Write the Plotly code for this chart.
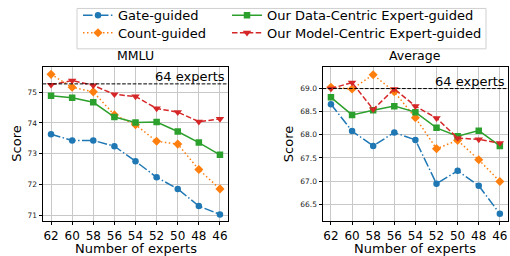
import plotly.graph_objects as go
from plotly.subplots import make_subplots

experts = ["62", "60", "58", "56", "54", "52", "50", "48", "46"]

mmlu_gate = [73.63, 73.43, 73.43, 73.24, 72.75, 72.23, 71.85, 71.29, 71.02]
mmlu_count = [75.58, 75.16, 75.01, 74.26, 73.94, 73.40, 73.31, 72.48, 71.85]
mmlu_data = [74.88, 74.82, 74.67, 74.19, 74.01, 74.03, 73.72, 73.36, 72.96]
mmlu_model = [75.24, 75.38, 75.22, 74.93, 74.86, 74.47, 74.35, 74.04, 74.13]
mmlu_full = 75.27

avg_gate = [68.66, 68.08, 67.76, 68.05, 67.89, 66.94, 67.22, 66.90, 66.29]
avg_count = [69.03, 68.99, 69.30, 68.93, 68.37, 67.70, 67.88, 67.46, 66.99]
avg_data = [68.81, 68.43, 68.53, 68.62, 68.49, 68.15, 67.97, 68.09, 67.76]
avg_model = [69.00, 69.13, 68.55, 68.99, 68.62, 68.36, 67.93, 67.90, 67.82]
avg_full = 69.00

series_names = ["Gate-guided", "Count-guided", "Our Data-Centric Expert-guided",
                "Our Model-Centric Expert-guided"]
colors = ["#1f77b4", "#ff7f0e", "#2ca02c", "#d62728"]
symbols = ["circle", "diamond", "square", "triangle-down"]
msizes = [6.5, 7, 6.5, 7.5]
dashes = ["9.6px,2.4px,1.5px,2.4px", "1.5px,2.5px", "solid", "5.5px,2.4px"]
legends = ["legend", "legend2", "legend3", "legend4"]

W, H = 510, 256
fig = make_subplots(rows=1, cols=2)

panels = [
    (1, [mmlu_gate, mmlu_count, mmlu_data, mmlu_model], mmlu_full, [70.79, 75.81],
     [71, 72, 73, 74, 75], ["71", "72", "73", "74", "75"]),
    (2, [avg_gate, avg_count, avg_data, avg_model], avg_full, [66.125, 69.46],
     [66.5, 67.0, 67.5, 68.0, 68.5, 69.0], ["66.5", "67.0", "67.5", "68.0", "68.5", "69.0"]),
]

for col, data, full, yr, tv, tt in panels:
    for i, ys in enumerate(data):
        fig.add_trace(go.Scatter(
            x=experts, y=ys, mode="lines+markers", name=series_names[i],
            line=dict(color=colors[i], width=1.5, dash=dashes[i]),
            marker=dict(symbol=symbols[i], size=msizes[i], color=colors[i]),
            showlegend=(col == 1), legend=legends[i],
        ), row=1, col=col)
    fig.add_hline(y=full, line=dict(color="black", width=1, dash="3.7px,1.6px"),
                  row=1, col=col)


def px(x):
    return x / W


def py(y):
    return 1 - y / H


axis_common = dict(
    showline=True, linecolor="black", linewidth=1, mirror=True,
    ticks="outside", ticklen=3, tickwidth=0.8, tickcolor="black",
    showgrid=True, gridcolor="#c8c8c8", gridwidth=1, zeroline=False,
    automargin=False,
)
fig.update_layout(
    xaxis=dict(domain=[px(42.6), px(228.4)], range=[-0.4, 8.4], type="category",
               tickfont=dict(size=12, color="black"), **axis_common),
    xaxis2=dict(domain=[px(322.5), px(508.3)], range=[-0.4, 8.4], type="category",
                tickfont=dict(size=12, color="black"), **axis_common),
    yaxis=dict(domain=[py(220.5), py(62)], range=panels[0][3], tickvals=panels[0][4],
               ticktext=panels[0][5], tickfont=dict(size=7.5, color="#222"),
               **axis_common),
    yaxis2=dict(domain=[py(220.5), py(62)], range=panels[1][3], tickvals=panels[1][4],
                ticktext=panels[1][5], tickfont=dict(size=7.5, color="#222"),
                **axis_common),
)

annotations = []
for xref, yref, title, full, score_x in [("x domain", "y", "MMLU", mmlu_full, 16.5),
                                         ("x2 domain", "y2", "Average", avg_full, 288)]:
    annotations.append(dict(text=title, xref=xref, yref="paper", x=0.5, y=py(60),
                            xanchor="center", yanchor="bottom", showarrow=False,
                            font=dict(size=12.5, color="black")))
    annotations.append(dict(text="64 experts", xref=xref, yref=yref, x=0.995, y=full,
                            xanchor="right", yanchor="bottom", showarrow=False,
                            font=dict(size=13, color="black"), yshift=-2))
    annotations.append(dict(text="Number of experts", xref=xref, yref="paper", x=0.5,
                            y=py(248.5), xanchor="center", yanchor="middle", showarrow=False,
                            font=dict(size=13, color="black")))
    annotations.append(dict(text="Score", xref="paper", yref="paper", x=px(score_x),
                            y=py(141), xanchor="center", yanchor="middle", showarrow=False,
                            textangle=-90, font=dict(size=13, color="black")))
fig.update_layout(annotations=annotations)

fig.add_shape(type="rect", xref="paper", yref="paper",
              x0=px(77), x1=px(486), y0=py(43), y1=py(1.5),
              line=dict(color="#d0d0d0", width=1), fillcolor="rgba(255,255,255,0.8)",
              layer="below")

leg_common = dict(orientation="v", yanchor="middle", xanchor="left",
                  font=dict(size=13, color="black", family="DejaVu Sans"),
                  bgcolor="rgba(0,0,0,0)", borderwidth=0, tracegroupgap=0,
                  itemwidth=30)
fig.update_layout(
    legend=dict(x=px(78), y=py(8.5), **leg_common),
    legend2=dict(x=px(78), y=py(26.5), **leg_common),
    legend3=dict(x=px(227), y=py(8.5), **leg_common),
    legend4=dict(x=px(227), y=py(26.5), **leg_common),
)

fig.update_layout(
    width=W, height=H, margin=dict(l=0, r=0, t=0, b=0),
    paper_bgcolor="white", plot_bgcolor="white",
    font=dict(family="DejaVu Sans", color="black"),
)

fig.write_html("out.html", config={"displayModeBar": False},
               post_script="document.body.style.margin='0';document.body.style.padding='0';")
